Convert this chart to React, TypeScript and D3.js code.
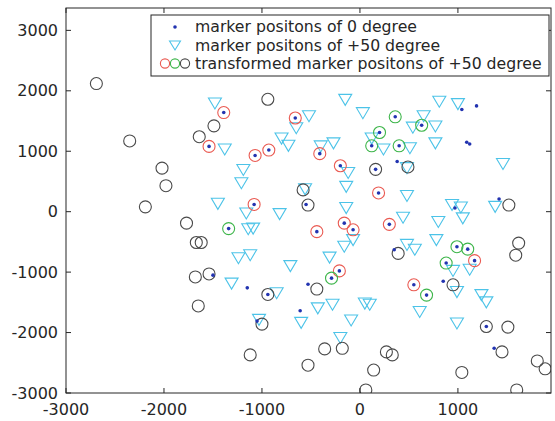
import * as d3 from 'd3';

// 0 degree marker positions (blue dots)
const dots0: [number, number][] = [
  [-1390, 1640], [-1540, 1080], [-660, 1550], [-930, 1020], [-1070, 930], [-410, 960],
  [-200, 760], [190, 310], [-1080, 120], [-440, -330], [-160, -190], [-70, -300],
  [300, -210], [-210, -980], [1170, -810], [550, -1210],
  [360, 1570], [200, 1310], [120, 1090], [630, 1430], [400, 1090], [-1340, -280],
  [-290, -1100], [990, -580], [1100, -620], [880, -850], [680, -1380],
  [1040, 1690], [1190, 1750], [1090, 1150], [1120, 1120], [380, 830], [160, 700],
  [-550, 120], [1420, 210], [970, 60], [350, -630], [850, -1150], [-1500, -1050],
  [-1150, -1260], [-530, -1200], [-940, -1370], [-610, -1640], [-1050, -1810],
  [1290, -1900], [1370, -2260],
];

// +50 degree marker positions (cyan triangles)
const triangles50: [number, number][] = [
  [-1480, 1790], [-1380, 1030], [-1450, 130], [-150, 1850], [-520, 1580], [30, 1630],
  [-650, 1380], [-800, 1210], [-730, 1090], [-400, 1080], [-270, 1130], [120, 1210],
  [240, 1030], [-1190, 690], [-120, 640], [-1210, 470], [-140, 410], [-560, 370],
  [810, 1820], [1000, 1780], [650, 1580], [540, 1390], [770, 1410], [770, 1130],
  [510, 1050], [480, 720], [1460, 790], [480, 260], [1380, 80], [-1160, -30],
  [-820, -40], [-140, 60], [-1140, -290], [-1090, -280], [-160, -580], [-70, -470],
  [-1240, -770], [-1120, -720], [-310, -760], [-710, -900], [-1310, -1190], [-850, -1350],
  [-430, -1600], [-280, -1540], [50, -1520], [100, -1540], [-1030, -1790], [-600, -1840],
  [-90, -1800], [-200, -2090], [940, 110], [1030, 70], [440, -100], [800, -170],
  [1050, -110], [780, -470], [480, -550], [560, -630], [950, -980], [1120, -960],
  [990, -1330], [1240, -1380], [1290, -1500], [610, -1660], [990, -1850],
];

// transformed +50 degree positions, by colour
const circlesRed: [number, number][] = [
  [-1390, 1640], [-1540, 1080], [-660, 1550], [-930, 1020], [-1070, 930], [-410, 960],
  [-200, 760], [190, 310], [-1080, 120], [-440, -330], [-160, -190], [-70, -300],
  [300, -210], [-210, -980], [1170, -810], [550, -1210],
];
const circlesGreen: [number, number][] = [
  [360, 1570], [200, 1310], [120, 1090], [630, 1430], [400, 1090], [-1340, -280],
  [-290, -1100], [990, -580], [1100, -620], [880, -850], [680, -1380],
];
const circlesBlack: [number, number][] = [
  [-2690, 2120], [-2350, 1170], [-2020, 720], [-1980, 430], [-2190, 80], [-1770, -190],
  [-1670, -510], [-1620, -510], [-1680, -1080], [-1540, -1030], [-1650, -1560],
  [-1490, 1420], [-1640, 1240], [-940, 1860], [160, 700], [-580, 360], [-530, 110],
  [490, 740], [950, -1210], [390, -690], [1520, 110], [1620, -520], [1590, -720],
  [1290, -1900], [1510, -1910], [1450, -2320], [1810, -2470], [1890, -2600],
  [1040, -2660], [1600, -2950], [270, -2320], [330, -2370], [140, -2620], [60, -2950],
  [-180, -2260], [-360, -2270], [-530, -2540], [-1120, -2370], [-1000, -1860],
  [-940, -1370], [-440, -1280],
];

const xTicks = [-3000, -2000, -1000, 0, 1000];
const yTicks = [-3000, -2000, -1000, 0, 1000, 2000, 3000];
const legendLabels = [
  'marker positons of 0 degree',
  'marker positons of +50 degree',
  'transformed marker positons of +50 degree',
];

const AX = '#262626';
const BLUE = '#2233b0';
const CYAN = '#4cc3e8';
const RED = '#ea5a52';
const GREEN = '#3db54a';
const GRAY = '#4a4a4a';
const FONT = 'DejaVu Sans, sans-serif';

const tri = (cx: number, cy: number, w: number, h: number) =>
  `M${cx - w / 2},${cy - h / 2}L${cx + w / 2},${cy - h / 2}L${cx},${cy + h / 2}Z`;

export default function App() {
  const left = 66, right = 551, top = 8, bottom = 393;
  const x = d3.scaleLinear().domain([-3000, 1950]).range([left, right]);
  const y = d3.scaleLinear().domain([-3000, 3370]).range([bottom, top]);
  const tl = 5;

  const circleSet = (data: [number, number][], color: string, key: string) =>
    data.map((d, i) => (
      <circle key={key + i} cx={x(d[0])} cy={y(d[1])} r={6} fill="none" stroke={color} strokeWidth={1.1} />
    ));

  return (
    <svg width={555} height={421} style={{ position: 'absolute', left: 0, top: 0, background: '#fff' }}
      fontFamily={FONT}>
      <rect x={0} y={0} width={555} height={421} fill="#fff" />
      <g clipPath="url(#plotclip)">
        {triangles50.map((d, i) => (
          <path key={'t' + i} d={tri(x(d[0]), y(d[1]), 13, 11)} fill="none" stroke={CYAN} strokeWidth={1.1} />
        ))}
        {circleSet(circlesBlack, GRAY, 'k')}
        {circleSet(circlesRed, RED, 'r')}
        {circleSet(circlesGreen, GREEN, 'g')}
        {dots0.map((d, i) => (
          <circle key={'d' + i} cx={x(d[0])} cy={y(d[1])} r={1.8} fill={BLUE} />
        ))}
      </g>
      <defs>
        <clipPath id="plotclip">
          <rect x={left} y={top} width={right - left} height={bottom - top} />
        </clipPath>
      </defs>

      {/* axes box */}
      <rect x={left} y={top} width={right - left} height={bottom - top} fill="none" stroke={AX} strokeWidth={1} />
      {xTicks.map(t => (
        <g key={'xt' + t}>
          <line x1={x(t)} x2={x(t)} y1={bottom} y2={bottom - tl} stroke={AX} />
          <line x1={x(t)} x2={x(t)} y1={top} y2={top + tl} stroke={AX} />
          <text x={x(t)} y={415} textAnchor="middle" fontSize={16} fill={AX}>{t}</text>
        </g>
      ))}
      {yTicks.map(t => (
        <g key={'yt' + t}>
          <line x1={left} x2={left + tl} y1={y(t)} y2={y(t)} stroke={AX} />
          <line x1={right} x2={right - tl} y1={y(t)} y2={y(t)} stroke={AX} />
          <text x={58} y={y(t)} dy="0.35em" textAnchor="end" fontSize={16} fill={AX}>{t}</text>
        </g>
      ))}

      {/* legend */}
      <g>
        <rect x={151} y={15} width={398} height={61} fill="#fff" stroke={AX} strokeWidth={1} />
        <circle cx={175} cy={27} r={1.8} fill={BLUE} />
        <path d={tri(175, 45.5, 11, 9)} fill="none" stroke={CYAN} strokeWidth={1.1} />
        <circle cx={165} cy={63.5} r={4.6} fill="none" stroke={RED} strokeWidth={1.1} />
        <circle cx={175} cy={63.5} r={4.6} fill="none" stroke={GREEN} strokeWidth={1.1} />
        <circle cx={185} cy={63.5} r={4.6} fill="none" stroke={GRAY} strokeWidth={1.1} />
        {legendLabels.map((s, i) => (
          <text key={s} x={195} y={27 + i * 18.3} dy="0.35em" fontSize={15.7} fill={AX}>{s}</text>
        ))}
      </g>
    </svg>
  );
}
